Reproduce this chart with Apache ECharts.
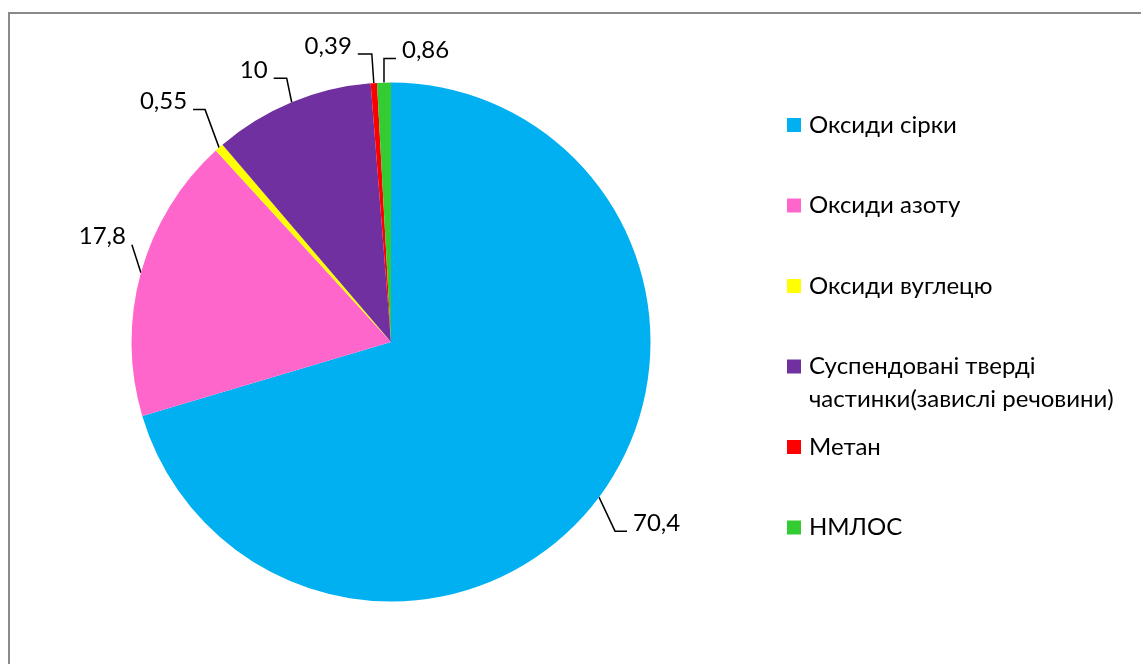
<!DOCTYPE html>
<html>
<head>
<meta charset="utf-8">
<script src="https://cdn.jsdelivr.net/npm/echarts@6/dist/echarts.min.js"></script>
<style>
  html, body { margin: 0; padding: 0; background: #fff; overflow: hidden; }
  #frame { position: absolute; left: 8px; top: 12px; width: 1300px; height: 800px; border: 2px solid #8a8a8a; }
  #chart { position: absolute; left: 0; top: 0; width: 1141px; height: 664px; }
</style>
</head>
<body>
<div id="frame"></div>
<div id="chart"></div>
<script>
// pollutant shares, %
const categories = [
  'Оксиди сірки',
  'Оксиди азоту',
  'Оксиди вуглецю',
  'Суспендовані тверді\nчастинки(завислі речовини)',
  'Метан',
  'НМЛОС'
];
const values = [70.4, 17.8, 0.55, 10, 0.39, 0.86];
const colors = ['#00b0f0', '#ff66cc', '#ffff00', '#7030a0', '#ff0000', '#33cc33'];

// leader line shape for each label: bend offset from slice edge [dx, dy], then horizontal tail
const labelLeaders = [
  [16, 34, 12],
  [-9, -28, 0],
  [-14, -38, -12],
  [-5, -24, -13],
  [-2, -29, -14],
  [0, -24, 12]
];

const FONT = 'Lato, "Noto Sans", sans-serif';
const FONT_SIZE = 24;

const chart = echarts.init(document.getElementById('chart'));

const option = {
  animation: false,
  legend: {
    orient: 'vertical',
    left: 787,
    top: 80,
    padding: 0,
    itemGap: -9.5,
    itemWidth: 14,
    itemHeight: 14,
    icon: 'rect',
    selectedMode: false,
    data: categories,
    // three rows per entry, so the first text row sits level with the square
    formatter: (name) => {
      const lines = [' '].concat(name.split('\n'));
      while (lines.length < 3) lines.push(' ');
      return lines.map((l) => '{n|' + l + '}').join('\n');
    },
    textStyle: {
      color: '#000',
      fontFamily: FONT,
      fontSize: FONT_SIZE,
      rich: {
        n: { color: '#000', fontFamily: FONT, fontSize: FONT_SIZE, lineHeight: 33, padding: [0, 0, 0, 3] }
      }
    }
  },
  series: [
    {
      type: 'pie',
      center: [391, 342],
      radius: 259.5,
      startAngle: 90,
      clockwise: true,
      avoidLabelOverlap: false,
      emphasis: { scale: false },
      itemStyle: { borderWidth: 0 },
      label: {
        show: true,
        position: 'outside',
        color: '#000',
        fontFamily: FONT,
        fontSize: FONT_SIZE,
        formatter: (p) => String(p.value).replace('.', ',')
      },
      labelLine: {
        show: true,
        length: 20,
        length2: 10,
        lineStyle: { color: '#000', width: 1.5 }
      },
      labelLayout: (params) => {
        const lead = labelLeaders[params.dataIndex];
        const p0 = params.labelLinePoints[0];
        const p1 = [p0[0] + lead[0], p0[1] + lead[1]];
        const p2 = [p1[0] + lead[2], p1[1]];
        const right = lead[2] > 0 || (lead[2] === 0 && lead[0] > 0);
        return {
          x: p2[0] + (right ? 6 : -6),
          y: p2[1] - 8,
          align: right ? 'left' : 'right',
          verticalAlign: 'middle',
          labelLinePoints: [p0, p1, p2]
        };
      },
      data: categories.map((name, i) => ({
        name: name,
        value: values[i],
        itemStyle: { color: colors[i] }
      }))
    }
  ]
};

chart.setOption(option);
</script>
</body>
</html>
